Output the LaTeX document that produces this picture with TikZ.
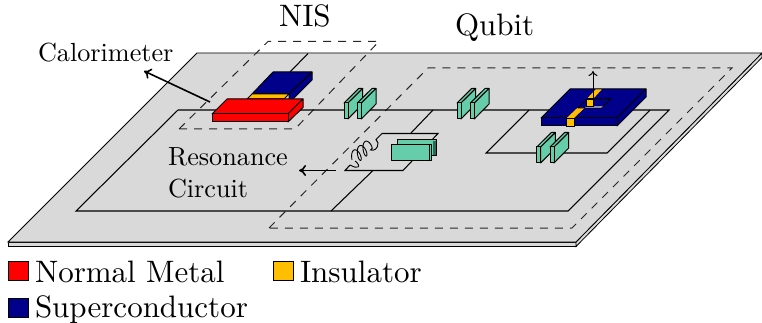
\documentclass[tikz,border=0pt]{standalone}
\usetikzlibrary{arrows.meta}
\definecolor{boardgray}{RGB}{217,217,217}
\definecolor{nmred}{RGB}{255,0,0}
\definecolor{scblue}{RGB}{0,0,139}
\definecolor{insyellow}{RGB}{255,191,0}
\definecolor{capgreen}{RGB}{102,205,170}
\definecolor{capdark}{RGB}{45,105,85}
\tikzset{
  solid3d/.style={draw=black,line width=1pt,line join=round},
  wire/.style={draw=black,line width=1.05pt},
  thinwire/.style={draw=black,line width=0.9pt},
  dashbox/.style={draw=black!85,line width=1pt,dash pattern=on 8pt off 7pt},
  lbl/.style={inner sep=0pt,outer sep=0pt,scale=3.1,anchor=base west},
  lbls/.style={inner sep=0pt,outer sep=0pt,scale=2.62,anchor=base west},
  legendbox/.style={draw=black,line width=0.9pt},
  bigarrow/.style={line width=1.6pt,-{To[length=7pt,width=11pt]}},
  smallarrow/.style={line width=1pt,-{To[length=5pt,width=9pt]}},
  plate/.pic={
    \fill[capgreen,solid3d] (0,0)--(4,0)--(18.7,-14.5)--(14.7,-14.5)--cycle;
    \fill[capgreen,solid3d] (4,0)--(18.7,-14.5)--(18.7,1)--(4,16)--cycle;
    \fill[capgreen,solid3d] (0,0)rectangle(4,16);
  },
  capacitor/.pic={
    \pic at (0,0) {plate};
    \pic at (13.3,0) {plate};
  }
}
\begin{document}
\begin{tikzpicture}[x=1pt,y=-1pt]
\useasboundingbox (0,0) rectangle (762,323);
% board
\fill[boardgray,draw=black,line width=0.8pt] (8,242)--(576,242)--(576,246.5)--(8,246.5)--cycle;
\fill[boardgray,draw=black,line width=0.8pt] (576,242)--(762,53)--(762,57.5)--(576,246.5)--cycle;
\fill[boardgray,draw=black,line width=0.8pt] (8,242)--(197,53)--(762,53)--(576,242)--cycle;
% dashed regions
\draw[dashbox] (179,129)--(268,41.5)--(379,41.5)--(295,129)--cycle;
\draw[dashbox] (269,228)--(428,68)--(732,68)--(572,228)--cycle;
% circuit
\draw[wire] (178,110)--(76,211)--(568,211)--(669,110)--cycle;
\coordinate (nisTop) at (308,53.5);
\coordinate (nisFoot) at (290,72);
\draw[wire] (nisTop)--(nisFoot);
\draw[wire] (529,110)--(486,153)--(607,153)--(650,110);
\coordinate (resTop) at (433,110);
\coordinate (resA) at (411,133);
\draw[wire] (resTop)--(resA);
\draw[wire] (373,170.5)--(331,211);
% resonance circuit
\draw[wire] (378,143)--(376,139.5)--(382,133.5)--(438,133.5)--(403,170.5)--(345,170.5)--(350,165);
\draw[thinwire] (378,143) .. controls (378,149) and (374,151) .. (370.5,150)
  -- plot[smooth,domain=60:1000,samples=80]
  ({370-\x/1080*17+2*cos(\x)+2.6*sin(\x)},{145.5+\x/1080*13+6.2*cos(\x)-1.3*sin(\x)});
\draw[thinwire] (350,165) .. controls (352,165) and (353,168) .. (358,167) .. controls (360,166) and (357,162) .. (355,161);
% resonance capacitor
\fill[capgreen,solid3d] (397,140) rectangle (436,156);
\fill[capdark] (433,141) rectangle (436,155);
\fill[capgreen,solid3d] (391.5,145) rectangle (431.5,161);
\draw[line width=0.8pt] (429,145)--(429,161);
% capacitors
\pic at (344,103) {capacitor};
\pic at (457,103) {capacitor};
\pic at (536.7,147) {capacitor};
% NIS block
\fill[scblue,solid3d] (252,94)--(273,72)--(312,72)--(289,94)--cycle;
\fill[insyellow,solid3d] (247,99)--(252,94)--(289,94)--(284,99)--cycle;
\fill[scblue,solid3d] (289,94)--(312,72)--(312,80)--(289,103)--cycle;
\fill[nmred,solid3d] (212,114)--(227,99)--(303,99)--(288,114)--cycle;
\fill[nmred,solid3d] (288,114)--(303,99)--(303,107.5)--(288,122)--cycle;
\fill[nmred,solid3d] (212,114) rectangle (288,122);
% qubit block
\fill[scblue,solid3d] (541,118)--(570,89)--(646,89)--(617,118)--cycle;
\fill[scblue,solid3d] (617,118)--(646,89)--(646,97)--(617,126)--cycle;
\fill[scblue,solid3d] (541,118) rectangle (617,126);
\fill[insyellow] (566.7,118)--(574,118)--(584.5,108)--(577.3,108)--cycle;
\fill[insyellow,draw=black,line width=0.6pt] (566.7,118.5) rectangle (574,126);
\fill[insyellow] (587,98.7)--(593.3,98.7)--(601.7,89.5)--(595.5,89.5)--cycle;
\fill[boardgray] (586,106.5)--(604,106.5)--(602,108)--(585,108)--cycle;
\draw[line width=0.9pt,line join=round] (578,108)--(587,98.7)--(610.7,98.7)--(601.7,108)--cycle;
\fill[insyellow,draw=black,line width=0.6pt] (586.7,99) rectangle (593.3,106.3);
% arrows
\coordinate (calTail) at (210,102);
\coordinate (calHead) at (144,71);
\draw[bigarrow] (calTail)--(calHead);
\coordinate (resTail) at (336,170.5);
\coordinate (resHead) at (299,170.5);
\draw[bigarrow] (resTail)--(resHead);
\coordinate (qubTail) at (593,100);
\coordinate (qubHead) at (593,71);
\draw[smallarrow] (qubTail)--(qubHead);
% labels
\node[lbl] (nis) at (279,27) {NIS};
\node[lbl] (qubit) at (455,36) {Qubit};
\node[lbls] (cal) at (38,62) {Calorimeter};
\node[lbls] (res1) at (168,165) {Resonance};
\node[lbls] (res2) at (168,197) {Circuit};
% legend
\draw[legendbox,fill=nmred] (8,261) rectangle (28,280);
\node[lbl] (lnm) at (35,282) {Normal Metal};
\draw[legendbox,fill=insyellow] (273,261) rectangle (293,280);
\node[lbl] (lin) at (300,282) {Insulator};
\draw[legendbox,fill=scblue] (8,298.5) rectangle (28,317.5);
\node[lbl] (lsc) at (35,317) {Superconductor};
\end{tikzpicture}
\end{document}
